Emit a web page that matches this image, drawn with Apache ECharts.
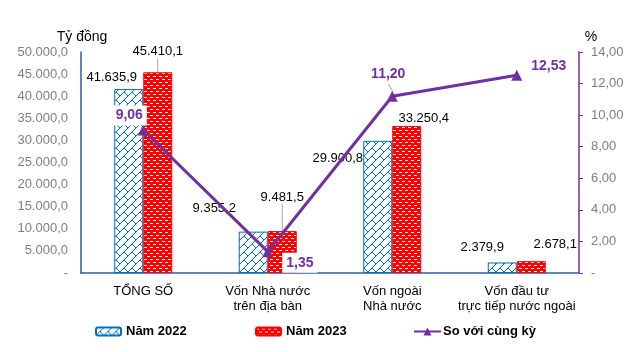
<!DOCTYPE html>
<html><head><meta charset="utf-8">
<script src="https://cdn.jsdelivr.net/npm/echarts@6/dist/echarts.min.js"></script>
<style>html,body{margin:0;padding:0;background:#fff}#c{width:636px;height:352px}</style>
</head><body><div id="c"></div>
<script>
var categories = ['TỔNG SỐ', 'Vốn Nhà nước\ntrên địa bàn', 'Vốn ngoài\nNhà nước', 'Vốn đầu tư\ntrực tiếp nước ngoài'];
var values2022 = [41635.9, 9355.2, 29900.8, 2379.9];
var values2023 = [45410.1, 9481.5, 33250.4, 2678.1];
var growth = [9.06, 1.35, 11.20, 12.53];
var leftTicks = ['-', '5.000,0', '10.000,0', '15.000,0', '20.000,0', '25.000,0', '30.000,0', '35.000,0', '40.000,0', '45.000,0', '50.000,0'];
var rightTicks = ['-', '2,00', '4,00', '6,00', '8,00', '10,00', '12,00', '14,00'];
var seriesNames = ['Năm 2022', 'Năm 2023', 'So với cùng kỳ'];

function fmt(v, d) {
  var s = v.toFixed(d).split('.');
  var i = s[0].replace(/\B(?=(\d{3})+(?!\d))/g, '.');
  return d ? i + ',' + s[1] : i;
}

function bluePattern() {
  var c = document.createElement('canvas'); c.width = 8; c.height = 8;
  var g = c.getContext('2d');
  g.fillStyle = '#fff'; g.fillRect(0, 0, 8, 8);
  g.fillStyle = '#0070C0';
  for (var i = 0; i < 8; i++) g.fillRect(7 - i, i, 1, 1);
  for (var j = 0; j < 4; j++) g.fillRect(4 + j, 4 + j, 1, 1);
  return c;
}
function redPattern() {
  var c = document.createElement('canvas'); c.width = 6; c.height = 6;
  var g = c.getContext('2d');
  g.fillStyle = '#FF0000'; g.fillRect(0, 0, 6, 6);
  g.fillStyle = '#fff'; g.fillRect(0, 1, 3, 1); g.fillRect(3, 4, 3, 1);
  return c;
}

var off2022 = [[-17, 0], [-39, -12], [-40, 29], [-20, -4]];
var off2023 = [[0, -9], [0, -22], [17, 4], [24, -5]];
var line2022 = [false, false, true, false];
var line2023 = [true, true, false, false];
var offG = [[-14, 6], [4, 11], [-4, -2], [32, 11]];
var posG = ['top', 'right', 'top', 'top'];
var lineG = [false, false, true, false];

var chart = echarts.init(document.getElementById('c'));
var F = 'Liberation Sans, Arial, sans-serif';
var legText = { fontFamily: F, fontSize: 13, fontWeight: 'bold', color: '#000' };
chart.setOption({
  animation: false,
  textStyle: { fontFamily: F },
  grid: { left: 81, right: 57, top: 52, bottom: 79 },
  legend: [
    { left: 95, top: 325, padding: 0, itemWidth: 25, itemHeight: 8, itemGap: 8, data: [seriesNames[0]], textStyle: legText },
    { left: 255, top: 325, padding: 0, itemWidth: 25, itemHeight: 8, data: [seriesNames[1]], textStyle: legText },
    { left: 413, top: 325, padding: 0, itemWidth: 27, itemHeight: 10, data: [seriesNames[2]], textStyle: { fontFamily: F, fontSize: 13, fontWeight: 'bold', color: '#000', padding: [0, 0, 0, -3] } }
  ],
  xAxis: {
    type: 'category', data: categories,
    axisLine: { lineStyle: { color: '#2E5C9A', width: 1.5 } },
    axisTick: { show: false },
    axisLabel: { interval: 0, color: '#000', fontSize: 13, lineHeight: 15, margin: 11, fontFamily: F, align: 'center' }
  },
  yAxis: [
    { type: 'value', min: 0, max: 50000, interval: 5000, splitLine: { show: false },
      axisLine: { show: true, lineStyle: { color: '#2E5C9A', width: 1.5 } }, axisTick: { show: false },
      axisLabel: { color: '#7F7F7F', fontSize: 13, margin: 13, fontFamily: F, formatter: function (v) { return leftTicks[Math.round(v / 5000)]; } },
      name: 'Tỷ đồng', nameLocation: 'end', nameGap: 8, nameTextStyle: { color: '#000', fontSize: 14, align: 'center', padding: [0, 0, 0, 2], fontFamily: F } },
    { type: 'value', min: 0, max: 14, interval: 2, splitLine: { show: false },
      axisLine: { show: true, lineStyle: { color: '#7030A0', width: 1.5 } }, axisTick: { show: true, length: 4, lineStyle: { color: '#7030A0' } },
      axisLabel: { color: '#7F7F7F', fontSize: 13, margin: 12, fontFamily: F, formatter: function (v) { return rightTicks[Math.round(v / 2)]; } },
      name: '%', nameLocation: 'end', nameGap: 8, nameTextStyle: { color: '#000', fontSize: 14, align: 'center', padding: [0, 0, 0, 24], fontFamily: F } }
  ],
  series: [
    { name: seriesNames[0], type: 'bar', barWidth: 29, barGap: '0%',
      itemStyle: { color: { image: bluePattern(), repeat: 'repeat' }, borderColor: '#0070C0', borderWidth: 1 },
      label: { show: true, position: 'top', color: '#000', fontSize: 13, fontFamily: F, formatter: function (p) { return fmt(p.value, 1); } },
      labelLine: { show: false, lineStyle: { color: '#A6A6A6', width: 1 } },
      labelLayout: function (p) { return { dx: off2022[p.dataIndex][0], dy: off2022[p.dataIndex][1] }; },
      data: values2022.map(function (v, i) { return { value: v, labelLine: { show: line2022[i] } }; }) },
    { name: seriesNames[1], type: 'bar', barWidth: 29,
      itemStyle: { color: { image: redPattern(), repeat: 'repeat' }, borderColor: '#FF0000', borderWidth: 1 },
      label: { show: true, position: 'top', color: '#000', fontSize: 13, fontFamily: F, formatter: function (p) { return fmt(p.value, 1); } },
      labelLine: { show: false, lineStyle: { color: '#A6A6A6', width: 1 } },
      labelLayout: function (p) { return { dx: off2023[p.dataIndex][0], dy: off2023[p.dataIndex][1] }; },
      data: values2023.map(function (v, i) { return { value: v, labelLine: { show: line2023[i] } }; }) },
    { name: seriesNames[2], type: 'line', yAxisIndex: 1, z: 5,
      lineStyle: { color: '#7030A0', width: 3 }, itemStyle: { color: '#7030A0' },
      symbol: 'triangle', symbolSize: 11,
      label: { show: true, color: '#7030A0', fontWeight: 'bold', fontSize: 14, fontFamily: F, backgroundColor: '#fff', padding: [3, 4, 3, 4],
        formatter: function (p) { return fmt(p.value, 2); } },
      labelLine: { show: false, lineStyle: { color: '#A6A6A6', width: 1 } },
      labelLayout: function (p) { return { dx: offG[p.dataIndex][0], dy: offG[p.dataIndex][1] }; },
      data: growth.map(function (v, i) { return { value: v, label: { position: posG[i] }, labelLine: { show: lineG[i] } }; }) }
  ]
});
</script></body></html>
